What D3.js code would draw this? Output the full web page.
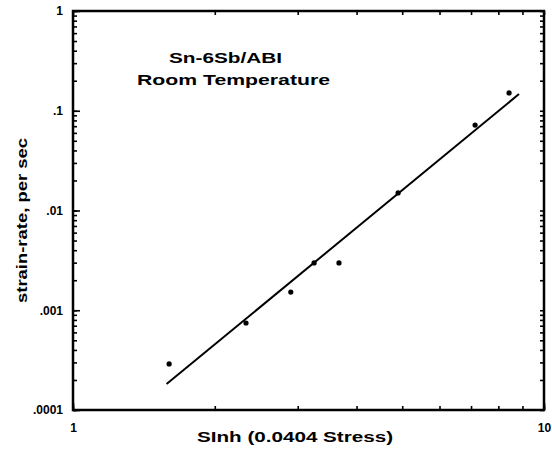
<!DOCTYPE html>
<html><head><meta charset="utf-8">
<script src="https://cdn.jsdelivr.net/npm/d3@7/dist/d3.min.js"></script>
<style>
body{margin:0;background:#fff;}
svg{display:block;font-family:"Liberation Sans",Arial,sans-serif;}
</style></head>
<body><svg id="c" width="552" height="449"></svg>
<script>
// Data
const sinhX = [1.60, 2.33, 2.90, 3.25, 3.67, 4.90, 7.14, 8.43];
const strainRate = [0.00029, 0.000745, 0.00152, 0.00298, 0.00298, 0.0150, 0.0719, 0.151];
const fitX = [1.58, 8.85];
const fitY = [0.000182, 0.147];
const yTickValues = [1, 0.1, 0.01, 0.001, 0.0001];
const yTickLabels = ["1", ".1", ".01", ".001", ".0001"];
const xTickValues = [1, 10];
const xTickLabels = ["1", "10"];

const svg = d3.select("#c");
const L = 73, R = 544, T = 11, B = 410;
const x = d3.scaleLog().domain([1, 10]).range([L, R]);
const y = d3.scaleLog().domain([1e-4, 1]).range([B, T]);

const xMinor = d3.range(1, 11);
const yMinor = [];
for (let e = -4; e < 0; e++) for (let k = 1; k < 10; k++) yMinor.push(k * Math.pow(10, e));
yMinor.push(1);

function styleAxis(g) {
  g.select(".domain").remove();
  g.selectAll("line").attr("stroke", "#000").attr("stroke-width", 1.6);
  g.selectAll("text").attr("font-size", 12).attr("font-weight", "bold").attr("fill", "#000");
}

// minor ticks on all four sides
svg.append("g").attr("transform", `translate(0,${B})`)
  .call(d3.axisBottom(x).tickValues(xMinor).tickSize(-4).tickFormat(""))
  .call(styleAxis);
svg.append("g").attr("transform", `translate(0,${T})`)
  .call(d3.axisTop(x).tickValues(xMinor).tickSize(-4).tickFormat(""))
  .call(styleAxis);
svg.append("g").attr("transform", `translate(${L},0)`)
  .call(d3.axisLeft(y).tickValues(yMinor).tickSize(-4).tickFormat(""))
  .call(styleAxis);
svg.append("g").attr("transform", `translate(${R},0)`)
  .call(d3.axisRight(y).tickValues(yMinor).tickSize(-4).tickFormat(""))
  .call(styleAxis);

// major ticks with labels
svg.append("g").attr("transform", `translate(${L},0)`)
  .call(d3.axisLeft(y).tickValues(yTickValues).tickSize(-7).tickPadding(10)
    .tickFormat((d, i) => yTickLabels[i]))
  .call(styleAxis);
svg.append("g").attr("transform", `translate(0,${B})`)
  .call(d3.axisBottom(x).tickValues(xTickValues).tickSize(-7).tickPadding(13)
    .tickFormat((d, i) => xTickLabels[i]))
  .call(styleAxis);

// frame
svg.append("rect").attr("x", L).attr("y", T).attr("width", R - L).attr("height", B - T)
  .attr("fill", "none").attr("stroke", "#000").attr("stroke-width", 2.5);

// fit line
const line = d3.line().x(d => x(d[0])).y(d => y(d[1]));
svg.append("path").datum(fitX.map((v, i) => [v, fitY[i]]))
  .attr("d", line).attr("fill", "none").attr("stroke", "#000").attr("stroke-width", 2);

// points
svg.append("g").selectAll("circle").data(sinhX.map((v, i) => [v, strainRate[i]]))
  .join("circle").attr("cx", d => x(d[0])).attr("cy", d => y(d[1])).attr("r", 2.6).attr("fill", "#000");

// annotation
svg.append("text").attr("x", 169).attr("y", 63).attr("font-size", 15).attr("font-weight", "bold")
  .attr("textLength", 113).attr("lengthAdjust", "spacingAndGlyphs").text("Sn-6Sb/ABI");
svg.append("text").attr("x", 137).attr("y", 85).attr("font-size", 15).attr("font-weight", "bold")
  .attr("textLength", 193).attr("lengthAdjust", "spacingAndGlyphs").text("Room Temperature");

// axis titles
svg.append("text").attr("x", 197).attr("y", 442).attr("font-size", 14).attr("font-weight", "bold")
  .attr("textLength", 196).attr("lengthAdjust", "spacingAndGlyphs").text("SInh (0.0404 Stress)");
svg.append("text").attr("transform", "translate(27,303) rotate(-90)")
  .attr("font-size", 14).attr("font-weight", "bold")
  .attr("textLength", 165).attr("lengthAdjust", "spacingAndGlyphs").text("strain-rate, per sec");
</script></body></html>
